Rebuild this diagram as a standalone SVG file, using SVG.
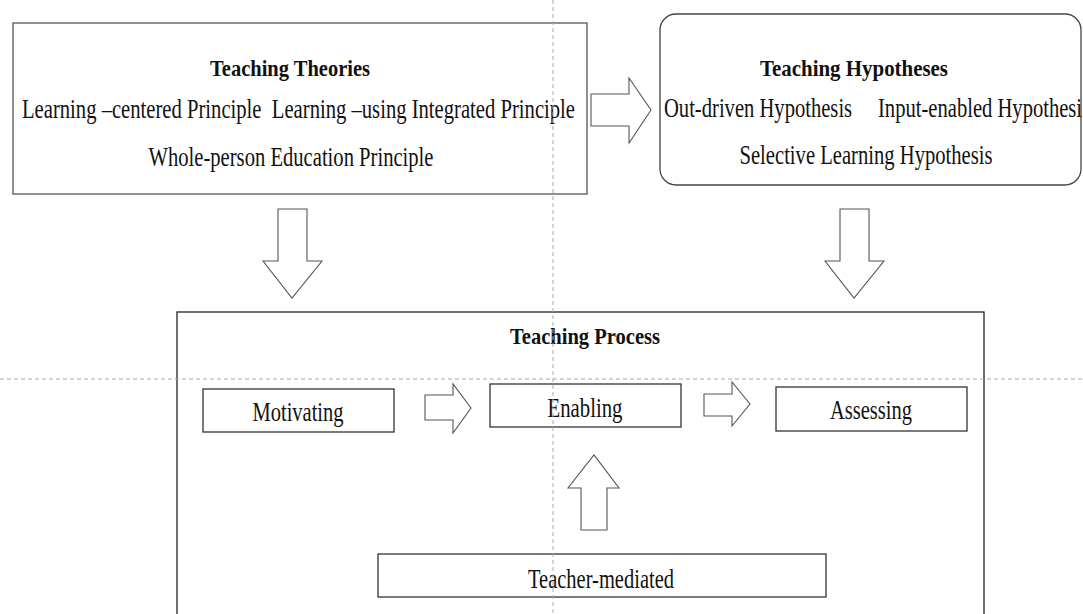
<svg xmlns="http://www.w3.org/2000/svg" width="1083" height="614" viewBox="0 0 1083 614">
<style>
.bg{fill:#ffffff}
.box{fill:#ffffff;stroke:#555555;stroke-width:1.3}
.pbox{fill:none;stroke:#222222;stroke-width:1.3}
.arrow{fill:#ffffff;stroke:#555555;stroke-width:1.1;stroke-linejoin:miter}
.t{font-family:"Liberation Serif","Times New Roman",serif;fill:#111111;font-size:28px}
.s{font-family:"Liberation Serif","Times New Roman",serif;fill:#111111;font-size:20.6px}
.b{font-family:"Liberation Serif","Times New Roman",serif;fill:#111111;font-size:24px;font-weight:bold}
.guide{stroke:#aaaaaa;stroke-width:1;stroke-dasharray:4 3;fill:none}
</style>
<rect class="bg" x="0" y="0" width="1083" height="614"/>
<g id="teaching-theories">
<rect class="box" x="13" y="23" width="574" height="171"/>
<text class="b" x="290" y="76" text-anchor="middle" textLength="160" lengthAdjust="spacingAndGlyphs">Teaching Theories</text>
<text class="t" x="22" y="118" textLength="553" lengthAdjust="spacingAndGlyphs">Learning –centered Principle&#160; Learning –using Integrated Principle</text>
<text class="t" x="291" y="166" text-anchor="middle" textLength="285" lengthAdjust="spacingAndGlyphs">Whole-person Education Principle</text>
</g>
<g id="teaching-hypotheses">
<rect class="box" x="660" y="14" width="421" height="171" rx="16" ry="16" style="stroke:#444444"/>
<text class="b" x="854" y="76" text-anchor="middle" textLength="188" lengthAdjust="spacingAndGlyphs">Teaching Hypotheses</text>
<text class="s" x="664" y="117" transform="matrix(1 0 0 1.3 0 -35.1)">Out-driven Hypothesis</text>
<text class="s" x="878" y="117" transform="matrix(1 0 0 1.3 0 -35.1)">Input-enabled Hypothesi</text>
<text class="t" x="866" y="164" text-anchor="middle" textLength="253" lengthAdjust="spacingAndGlyphs">Selective Learning Hypothesis</text>
</g>
<g id="teaching-process">
<rect class="pbox" x="177" y="312" width="807" height="320"/>
<text class="b" x="585" y="344" text-anchor="middle" textLength="150" lengthAdjust="spacingAndGlyphs">Teaching Process</text>
</g>
<g id="motivating">
<rect class="box" x="203" y="389" width="191" height="43" style="stroke:#333333"/>
<text class="t" x="298" y="421" text-anchor="middle" textLength="91" lengthAdjust="spacingAndGlyphs">Motivating</text>
</g>
<g id="enabling">
<rect class="box" x="490" y="384" width="191" height="43" style="stroke:#333333"/>
<text class="t" x="585" y="417" text-anchor="middle" textLength="75" lengthAdjust="spacingAndGlyphs">Enabling</text>
</g>
<g id="assessing">
<rect class="box" x="776" y="387" width="191" height="44" style="stroke:#333333"/>
<text class="t" x="871" y="419" text-anchor="middle" textLength="82" lengthAdjust="spacingAndGlyphs">Assessing</text>
</g>
<g id="teacher-mediated">
<rect class="box" x="378" y="554" width="448" height="43" style="stroke:#333333"/>
<text class="t" x="601" y="588" text-anchor="middle" textLength="146" lengthAdjust="spacingAndGlyphs">Teacher-mediated</text>
</g>
<g id="connectors">
<polygon class="arrow" points="591,94 629,94 629,78 651,110 629,143 629,126 591,126"/>
<polygon class="arrow" points="278,209 307,209 307,261 322,261 292,298 263,261 278,261"/>
<polygon class="arrow" points="840,209 869,209 869,261 884,261 854,298 825,261 840,261"/>
<polygon class="arrow" points="425,395 453,395 453,384 471,408 453,433 453,420 425,420"/>
<polygon class="arrow" points="704,394 732,394 732,382 750,404 732,426 732,416 704,416"/>
<polygon class="arrow" points="581,530 581,488 568,488 594,455 619,488 607,488 607,530"/>
</g>
<g id="guides">
<line class="guide" x1="553" y1="0" x2="553" y2="614"/>
<line class="guide" x1="0" y1="379" x2="1083" y2="379"/>
</g>
</svg>
